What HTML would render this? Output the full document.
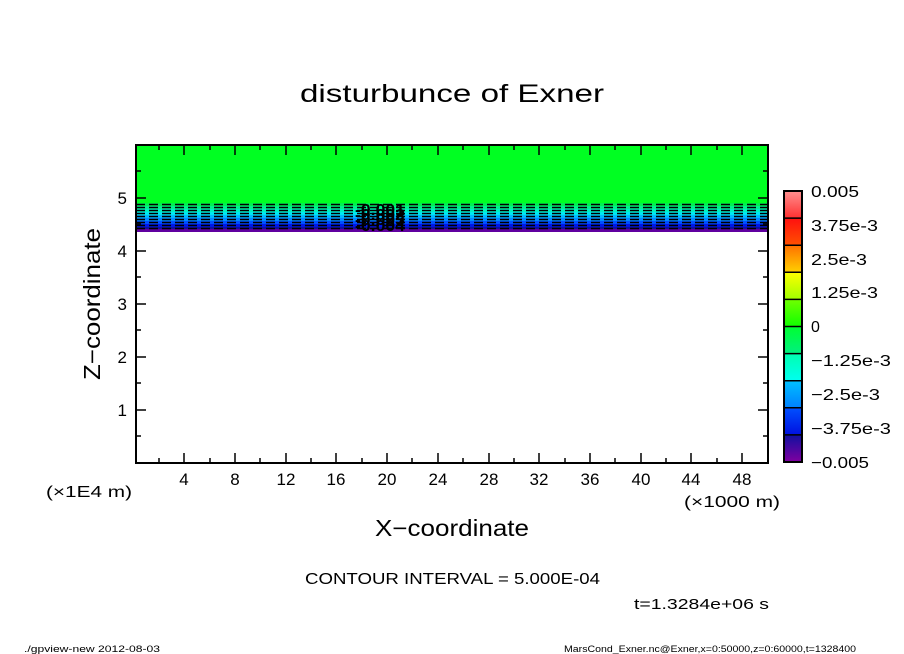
<!DOCTYPE html>
<html><head><meta charset="utf-8"><style>
html,body{margin:0;padding:0;background:#fff}
svg{display:block}
text{font-family:"Liberation Sans","DejaVu Sans",sans-serif;fill:#000}
</style></head><body>
<svg width="904" height="654" viewBox="0 0 904 654" xmlns="http://www.w3.org/2000/svg">
<rect width="904" height="654" fill="#fff"/>
<text x="300" y="102" font-size="25" textLength="304" lengthAdjust="spacingAndGlyphs">disturbunce of Exner</text>
<rect x="136" y="145" width="632" height="58" fill="#00ff22"/>
<rect x="136" y="203" width="632" height="3" fill="#00f050"/>
<rect x="136" y="206" width="632" height="3" fill="#00f090"/>
<rect x="136" y="209" width="632" height="3" fill="#00f0c0"/>
<rect x="136" y="212" width="632" height="3" fill="#00e8f0"/>
<rect x="136" y="215" width="632" height="3" fill="#00b8ff"/>
<rect x="136" y="218" width="632" height="3" fill="#0088ff"/>
<rect x="136" y="221" width="632" height="3" fill="#0050ff"/>
<rect x="136" y="224" width="632" height="3" fill="#0018e8"/>
<rect x="136" y="227" width="632" height="2" fill="#1010a0"/>
<rect x="136" y="229" width="632" height="3" fill="#6000a0"/>
<g stroke="#000" stroke-width="1.5" stroke-dasharray="9,4">
<line x1="136" y1="204.5" x2="768" y2="204.5"/>
<line x1="136" y1="207.5" x2="768" y2="207.5"/>
<line x1="136" y1="210.5" x2="768" y2="210.5"/>
<line x1="136" y1="213.5" x2="768" y2="213.5"/>
<line x1="136" y1="216.5" x2="768" y2="216.5"/>
<line x1="136" y1="219.5" x2="768" y2="219.5"/>
<line x1="136" y1="222.5" x2="768" y2="222.5"/>
<line x1="136" y1="225.5" x2="768" y2="225.5"/>
<line x1="136" y1="228.5" x2="768" y2="228.5"/>
</g>
<g font-size="16" font-weight="bold">
<text x="355" y="215" textLength="50" lengthAdjust="spacingAndGlyphs">-0.001</text>
<text x="355" y="220" textLength="50" lengthAdjust="spacingAndGlyphs">-0.002</text>
<text x="355" y="225" textLength="50" lengthAdjust="spacingAndGlyphs">-0.003</text>
<text x="355" y="231" textLength="50" lengthAdjust="spacingAndGlyphs">-0.004</text>
</g>
<rect x="136" y="145" width="632" height="318" fill="none" stroke="#000" stroke-width="2"/>
<g stroke="#000" stroke-width="1.5">
<line x1="136" y1="410" x2="146" y2="410"/><line x1="136" y1="357" x2="146" y2="357"/>
<line x1="136" y1="304" x2="146" y2="304"/><line x1="136" y1="251" x2="146" y2="251"/>
<line x1="136" y1="198" x2="146" y2="198"/>
<line x1="136" y1="436" x2="141" y2="436"/><line x1="136" y1="383" x2="141" y2="383"/>
<line x1="136" y1="330" x2="141" y2="330"/><line x1="136" y1="277" x2="141" y2="277"/>
<line x1="136" y1="224" x2="141" y2="224"/><line x1="136" y1="171" x2="141" y2="171"/>
<line x1="758" y1="410" x2="768" y2="410"/><line x1="758" y1="357" x2="768" y2="357"/>
<line x1="758" y1="304" x2="768" y2="304"/><line x1="758" y1="251" x2="768" y2="251"/>
<line x1="758" y1="198" x2="768" y2="198"/>
<line x1="763" y1="436" x2="768" y2="436"/><line x1="763" y1="383" x2="768" y2="383"/>
<line x1="763" y1="330" x2="768" y2="330"/><line x1="763" y1="277" x2="768" y2="277"/>
<line x1="763" y1="224" x2="768" y2="224"/><line x1="763" y1="171" x2="768" y2="171"/>
</g>
<g font-size="17" text-anchor="end">
<text x="127" y="416">1</text><text x="127" y="363">2</text><text x="127" y="310">3</text>
<text x="127" y="257">4</text><text x="127" y="204">5</text>
</g>
<g stroke="#000" stroke-width="1.5">
<line x1="184" y1="463" x2="184" y2="453"/><line x1="235" y1="463" x2="235" y2="453"/>
<line x1="286" y1="463" x2="286" y2="453"/><line x1="336" y1="463" x2="336" y2="453"/>
<line x1="387" y1="463" x2="387" y2="453"/><line x1="438" y1="463" x2="438" y2="453"/>
<line x1="489" y1="463" x2="489" y2="453"/><line x1="539" y1="463" x2="539" y2="453"/>
<line x1="590" y1="463" x2="590" y2="453"/><line x1="641" y1="463" x2="641" y2="453"/>
<line x1="691" y1="463" x2="691" y2="453"/><line x1="742" y1="463" x2="742" y2="453"/>
<line x1="159" y1="463" x2="159" y2="458"/><line x1="210" y1="463" x2="210" y2="458"/>
<line x1="260" y1="463" x2="260" y2="458"/><line x1="311" y1="463" x2="311" y2="458"/>
<line x1="362" y1="463" x2="362" y2="458"/><line x1="412" y1="463" x2="412" y2="458"/>
<line x1="463" y1="463" x2="463" y2="458"/><line x1="514" y1="463" x2="514" y2="458"/>
<line x1="565" y1="463" x2="565" y2="458"/><line x1="615" y1="463" x2="615" y2="458"/>
<line x1="666" y1="463" x2="666" y2="458"/><line x1="717" y1="463" x2="717" y2="458"/>
<line x1="184" y1="145" x2="184" y2="155"/><line x1="235" y1="145" x2="235" y2="155"/>
<line x1="286" y1="145" x2="286" y2="155"/><line x1="336" y1="145" x2="336" y2="155"/>
<line x1="387" y1="145" x2="387" y2="155"/><line x1="438" y1="145" x2="438" y2="155"/>
<line x1="489" y1="145" x2="489" y2="155"/><line x1="539" y1="145" x2="539" y2="155"/>
<line x1="590" y1="145" x2="590" y2="155"/><line x1="641" y1="145" x2="641" y2="155"/>
<line x1="691" y1="145" x2="691" y2="155"/><line x1="742" y1="145" x2="742" y2="155"/>
<line x1="159" y1="145" x2="159" y2="150"/><line x1="210" y1="145" x2="210" y2="150"/>
<line x1="260" y1="145" x2="260" y2="150"/><line x1="311" y1="145" x2="311" y2="150"/>
<line x1="362" y1="145" x2="362" y2="150"/><line x1="412" y1="145" x2="412" y2="150"/>
<line x1="463" y1="145" x2="463" y2="150"/><line x1="514" y1="145" x2="514" y2="150"/>
<line x1="565" y1="145" x2="565" y2="150"/><line x1="615" y1="145" x2="615" y2="150"/>
<line x1="666" y1="145" x2="666" y2="150"/><line x1="717" y1="145" x2="717" y2="150"/>
</g>
<g font-size="17" text-anchor="middle">
<text x="184" y="485">4</text><text x="235" y="485">8</text><text x="286" y="485">12</text>
<text x="336" y="485">16</text><text x="387" y="485">20</text><text x="438" y="485">24</text>
<text x="489" y="485">28</text><text x="539" y="485">32</text><text x="590" y="485">36</text>
<text x="641" y="485">40</text><text x="691" y="485">44</text><text x="742" y="485">48</text>
</g>
<text x="46" y="497" font-size="16" textLength="86" lengthAdjust="spacingAndGlyphs">(×1E4 m)</text>
<text x="684" y="507" font-size="16" textLength="96" lengthAdjust="spacingAndGlyphs">(×1000 m)</text>
<text x="375" y="536" font-size="23" textLength="154" lengthAdjust="spacingAndGlyphs">X−coordinate</text>
<text x="0" y="0" font-size="23" textLength="152" lengthAdjust="spacingAndGlyphs" transform="translate(100,380) rotate(-90)">Z−coordinate</text>
<defs>
<linearGradient id="g1" x1="0" y1="0" x2="0" y2="1"><stop offset="0" stop-color="#ff9090"/><stop offset="1" stop-color="#ff3030"/></linearGradient>
<linearGradient id="g2" x1="0" y1="0" x2="0" y2="1"><stop offset="0" stop-color="#ff1010"/><stop offset="1" stop-color="#ff5000"/></linearGradient>
<linearGradient id="g3" x1="0" y1="0" x2="0" y2="1"><stop offset="0" stop-color="#ff7000"/><stop offset="1" stop-color="#ffd000"/></linearGradient>
<linearGradient id="g4" x1="0" y1="0" x2="0" y2="1"><stop offset="0" stop-color="#ffff00"/><stop offset="1" stop-color="#a0ff00"/></linearGradient>
<linearGradient id="g5" x1="0" y1="0" x2="0" y2="1"><stop offset="0" stop-color="#70ff00"/><stop offset="1" stop-color="#10ff00"/></linearGradient>
<linearGradient id="g6" x1="0" y1="0" x2="0" y2="1"><stop offset="0" stop-color="#00ff30"/><stop offset="1" stop-color="#00f080"/></linearGradient>
<linearGradient id="g7" x1="0" y1="0" x2="0" y2="1"><stop offset="0" stop-color="#00ffb0"/><stop offset="1" stop-color="#00fff0"/></linearGradient>
<linearGradient id="g8" x1="0" y1="0" x2="0" y2="1"><stop offset="0" stop-color="#00c0ff"/><stop offset="1" stop-color="#0080ff"/></linearGradient>
<linearGradient id="g9" x1="0" y1="0" x2="0" y2="1"><stop offset="0" stop-color="#0050ff"/><stop offset="1" stop-color="#0010e0"/></linearGradient>
<linearGradient id="g10" x1="0" y1="0" x2="0" y2="1"><stop offset="0" stop-color="#1010a0"/><stop offset="1" stop-color="#8000a0"/></linearGradient>
</defs>
<rect x="784" y="191" width="18" height="27.1" fill="url(#g1)"/>
<rect x="784" y="218.1" width="18" height="27.1" fill="url(#g2)"/>
<rect x="784" y="245.2" width="18" height="27.1" fill="url(#g3)"/>
<rect x="784" y="272.3" width="18" height="27.1" fill="url(#g4)"/>
<rect x="784" y="299.4" width="18" height="27.1" fill="url(#g5)"/>
<rect x="784" y="326.5" width="18" height="27.1" fill="url(#g6)"/>
<rect x="784" y="353.6" width="18" height="27.1" fill="url(#g7)"/>
<rect x="784" y="380.7" width="18" height="27.1" fill="url(#g8)"/>
<rect x="784" y="407.8" width="18" height="27.1" fill="url(#g9)"/>
<rect x="784" y="434.9" width="18" height="27.1" fill="url(#g10)"/>
<g stroke="#000" stroke-width="1.5">
<line x1="784" y1="218.1" x2="802" y2="218.1"/><line x1="784" y1="245.2" x2="802" y2="245.2"/>
<line x1="784" y1="272.3" x2="802" y2="272.3"/><line x1="784" y1="299.4" x2="802" y2="299.4"/>
<line x1="784" y1="326.5" x2="802" y2="326.5"/><line x1="784" y1="353.6" x2="802" y2="353.6"/>
<line x1="784" y1="380.7" x2="802" y2="380.7"/><line x1="784" y1="407.8" x2="802" y2="407.8"/>
<line x1="784" y1="434.9" x2="802" y2="434.9"/>
</g>
<rect x="784" y="191" width="18" height="271" fill="none" stroke="#000" stroke-width="2"/>
<g font-size="16">
<text x="811" y="197" textLength="48" lengthAdjust="spacingAndGlyphs">0.005</text>
<text x="811" y="231" textLength="67" lengthAdjust="spacingAndGlyphs">3.75e-3</text>
<text x="811" y="265" textLength="56" lengthAdjust="spacingAndGlyphs">2.5e-3</text>
<text x="811" y="298" textLength="67" lengthAdjust="spacingAndGlyphs">1.25e-3</text>
<text x="811" y="332">0</text>
<text x="811" y="366" textLength="80" lengthAdjust="spacingAndGlyphs">−1.25e-3</text>
<text x="811" y="400" textLength="69" lengthAdjust="spacingAndGlyphs">−2.5e-3</text>
<text x="811" y="434" textLength="80" lengthAdjust="spacingAndGlyphs">−3.75e-3</text>
<text x="811" y="468" textLength="58" lengthAdjust="spacingAndGlyphs">−0.005</text>
</g>
<text x="305" y="584" font-size="16" textLength="295" lengthAdjust="spacingAndGlyphs">CONTOUR INTERVAL = 5.000E-04</text>
<text x="634" y="609" font-size="15" textLength="135" lengthAdjust="spacingAndGlyphs">t=1.3284e+06 s</text>
<text x="24" y="652" font-size="9" textLength="136" lengthAdjust="spacingAndGlyphs">./gpview-new  2012-08-03</text>
<text x="564" y="652" font-size="9" textLength="292" lengthAdjust="spacingAndGlyphs">MarsCond_Exner.nc@Exner,x=0:50000,z=0:60000,t=1328400</text>
</svg>
</body></html>
